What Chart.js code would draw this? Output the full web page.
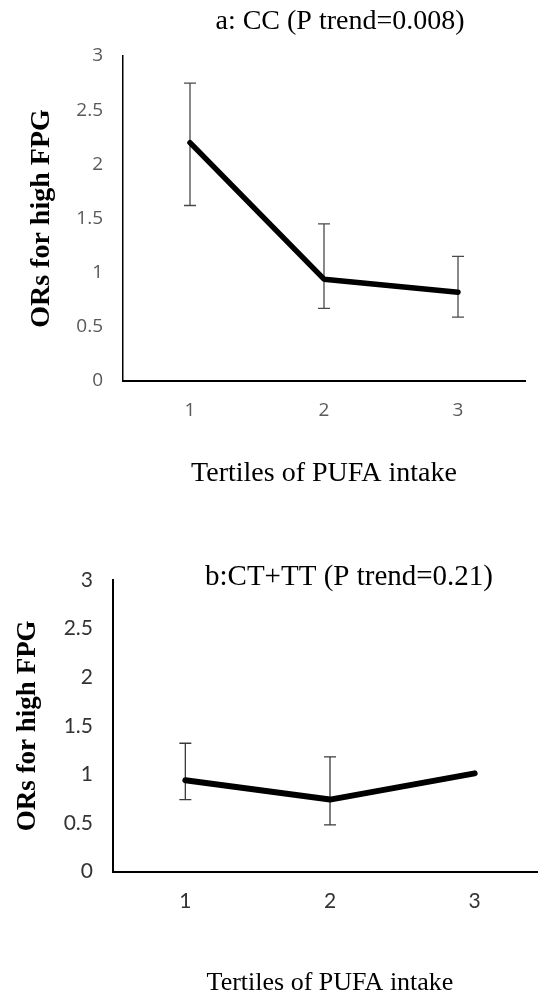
<!DOCTYPE html>
<html>
<head>
<meta charset="utf-8">
<script src="https://cdn.jsdelivr.net/npm/chart.js@4.4.1/dist/chart.umd.min.js"></script>
<style>
  html, body { margin: 0; padding: 0; background: #fff; width: 538px; height: 999px; overflow: hidden; position: relative; }
  canvas { position: absolute; left: 0; }
  #topChart { top: 0; }
  #bottomChart { top: 500px; }
</style>
</head>
<body>
<canvas id="topChart" width="538" height="500"></canvas>
<canvas id="bottomChart" width="560" height="499"></canvas>
<script>
// ---- data ----
const categories = ['1', '2', '3'];
const yTickLabels = ['0', '0.5', '1', '1.5', '2', '2.5', '3'];

const titleA = 'a: CC (P trend=0.008)';
const valuesA = [2.20, 0.94, 0.82];
const lowerA = [1.62, 0.67, 0.59];
const upperA = [2.75, 1.45, 1.15];

const titleB = 'b:CT+TT (P trend=0.21)';
const valuesB = [0.94, 0.74, 1.01];
const lowerB = [0.74, 0.48, null];
const upperB = [1.32, 1.18, null];

const yAxisTitle = 'ORs for high FPG';
const xAxisTitle = 'Tertiles of PUFA intake';

// ---- plugins ----
const errorBars = {
  id: 'errorBars',
  beforeDatasetsDraw(chart, args, opts) {
    const ctx = chart.ctx;
    const x = chart.scales.x, y = chart.scales.y;
    chart.data.datasets.forEach(ds => {
      if (!ds.errLower) return;
      ds.data.forEach((v, i) => {
        const lo = ds.errLower[i], hi = ds.errUpper[i];
        if (lo == null || hi == null) return;
        const px = x.getPixelForValue(i);
        const pLo = y.getPixelForValue(lo), pHi = y.getPixelForValue(hi);
        const cap = opts.cap || 6;
        ctx.save();
        ctx.strokeStyle = opts.color || '#444';
        ctx.lineWidth = opts.width || 1.3;
        ctx.beginPath();
        ctx.moveTo(px, pLo); ctx.lineTo(px, pHi);
        ctx.moveTo(px - cap, pLo); ctx.lineTo(px + cap, pLo);
        ctx.moveTo(px - cap, pHi); ctx.lineTo(px + cap, pHi);
        ctx.stroke();
        ctx.restore();
      });
    });
  }
};

const panelTitle = {
  id: 'panelTitle',
  afterDraw(chart, args, opts) {
    if (!opts.text) return;
    const ctx = chart.ctx;
    ctx.save();
    ctx.font = opts.font;
    ctx.fillStyle = '#000';
    ctx.textAlign = 'center';
    ctx.textBaseline = 'middle';
    ctx.fillText(opts.text, opts.x, opts.y);
    ctx.restore();
  }
};

function makeChart(canvasId, cfg) {
  return new Chart(document.getElementById(canvasId), {
    type: 'line',
    data: {
      labels: categories,
      datasets: [{
        data: cfg.values,
        errLower: cfg.lower,
        errUpper: cfg.upper,
        borderColor: '#000',
        backgroundColor: '#000',
        borderWidth: cfg.lineWidth,
        borderCapStyle: 'round',
        borderJoinStyle: 'round',
        pointRadius: 0,
        pointHoverRadius: 0,
        tension: 0,
        fill: false
      }]
    },
    options: {
      responsive: false,
      animation: false,
      devicePixelRatio: 1,
      events: [],
      layout: { padding: { left: 0, right: cfg.padRight, top: cfg.padTop, bottom: 0 } },
      plugins: {
        legend: { display: false },
        tooltip: { enabled: false },
        title: { display: false },
        errorBars: { cap: 6, color: cfg.errColor, width: 1.3 },
        panelTitle: { text: cfg.title, x: cfg.titleX, y: cfg.titleY, font: cfg.titleFont }
      },
      scales: {
        x: {
          type: 'category',
          offset: true,
          grid: { display: false, drawTicks: false, tickLength: 0 },
          border: { display: true, color: '#000', width: cfg.xBorder },
          ticks: { color: cfg.tickColor, font: cfg.tickFont, padding: cfg.xTickPad, maxRotation: 0, autoSkip: false },
          title: { display: true, text: xAxisTitle, color: '#000', font: cfg.xTitleFont, padding: { top: 0, bottom: cfg.xTitlePadBottom } },
          afterFit(scale) { scale.height = cfg.xHeight; }
        },
        y: {
          min: 0, max: 3,
          grid: { display: false, drawTicks: false, tickLength: 0 },
          border: { display: true, color: '#000', width: cfg.yBorder },
          ticks: {
            stepSize: 0.5,
            color: cfg.tickColor,
            font: cfg.tickFont,
            padding: 20,
            callback: (v) => yTickLabels[Math.round(v / 0.5)]
          },
          title: { display: true, text: yAxisTitle, color: '#000', font: cfg.yTitleFont, padding: { top: cfg.yTitlePadTop, bottom: 0 } },
          afterFit(scale) { scale.width = cfg.yWidth; }
        }
      }
    },
    plugins: [errorBars, panelTitle]
  });
}

makeChart('topChart', {
  values: valuesA, lower: lowerA, upper: upperA,
  lineWidth: 5.5,
  padRight: 13, padTop: 56,
  errColor: '#4a4a4a',
  title: titleA, titleX: 340, titleY: 22,
  titleFont: '28px "Liberation Serif"',
  tickColor: '#595959',
  tickFont: { family: '"Open Sans"', size: 19 },
  xTickPad: 18,
  xBorder: 2, yBorder: 1.5,
  xTitleFont: { family: '"Liberation Serif"', size: 28, lineHeight: 1.2 },
  xTitlePadBottom: 10,
  xHeight: 119,
  yTitleFont: { family: '"Liberation Serif"', size: 28, weight: 'bold', lineHeight: 1.2 },
  yTitlePadTop: 25,
  yWidth: 123
});

makeChart('bottomChart', {
  values: valuesB, lower: lowerB, upper: upperB,
  lineWidth: 6,
  padRight: 13, padTop: 80,
  errColor: '#3a3a3a',
  title: titleB, titleX: 349, titleY: 77,
  titleFont: '29px "Liberation Serif"',
  tickColor: '#333',
  tickFont: { family: 'Lato', size: 21 },
  xTickPad: 17,
  xBorder: 2, yBorder: 2,
  xTitleFont: { family: '"Liberation Serif"', size: 26, lineHeight: 1.2 },
  xTitlePadBottom: 0,
  xHeight: 127.5,
  yTitleFont: { family: '"Liberation Serif"', size: 27, weight: 'bold', lineHeight: 1.2 },
  yTitlePadTop: 12,
  yWidth: 113
});
</script>
</body>
</html>
